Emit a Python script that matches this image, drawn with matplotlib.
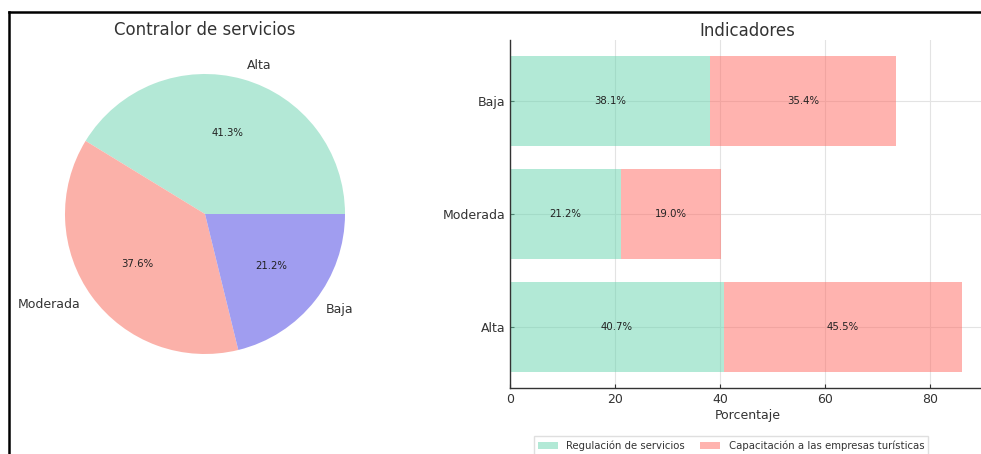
import matplotlib
matplotlib.use("Agg")
import matplotlib.pyplot as plt
from matplotlib.lines import Line2D
import numpy as np

# pie: controller of services
pie_labels = ["Alta", "Moderada", "Baja"]
pie_values = [41.3, 37.6, 21.2]

# stacked bars: indicators
levels = ["Alta", "Moderada", "Baja"]
regulacion = [40.7, 21.2, 38.1]
capacitacion = [45.5, 19.0, 35.4]
series_names = ["Regulación de servicios", "Capacitación a las empresas turísticas"]

green = "#66d4ae"
pink = "#ff6961"
pie_colors = ["#b3e8d6", "#fbb1a9", "#a09df0"]

W, H = 981, 454
fig = plt.figure(figsize=(W / 100, H / 100), dpi=100)
fig.patch.set_facecolor("white")

text_color = "#333333"

# ---- pie ----
ax1 = fig.add_axes([30 / W, (H - 389) / H, 350 / W, 350 / H])
wedges, texts, autotexts = ax1.pie(
    pie_values, labels=pie_labels, colors=pie_colors, startangle=0,
    autopct="%1.1f%%", labeldistance=1.1, pctdistance=0.6,
    textprops={"color": text_color, "fontsize": 9},
)
for t in autotexts:
    t.set_fontsize(7.3)
    t.set_color("#222222")
ax1.set_xlim(-1.25, 1.25)
ax1.set_ylim(-1.25, 1.25)
ax1.set_aspect("equal")
ax1.set_title("Contralor de servicios", fontsize=12, color=text_color, pad=3)

# ---- stacked horizontal bars ----
ax2 = fig.add_axes([510 / W, (H - 388) / H, 475 / W, 348 / H])
y = np.arange(len(levels))
b1 = ax2.barh(y, regulacion, height=0.8, color=green, alpha=0.5,
              label=series_names[0], zorder=2)
b2 = ax2.barh(y, capacitacion, left=regulacion, height=0.8, color=pink,
              alpha=0.5, label=series_names[1], zorder=2)
for bars, vals, lefts in [(b1, regulacion, [0] * 3), (b2, capacitacion, regulacion)]:
    for yi, v, l in zip(y, vals, lefts):
        ax2.text(l + v / 2, yi, f"{v:.1f}%", ha="center", va="center",
                 fontsize=7.3, color="#222222", zorder=3)

ax2.set_yticks(y)
ax2.set_yticklabels(levels)
ax2.set_xticks([0, 20, 40, 60, 80])
ax2.set_xlim(0, 90.5)
ax2.set_ylim(-0.54, 2.54)
ax2.set_xlabel("Porcentaje", fontsize=9, color=text_color, labelpad=2)
ax2.set_title("Indicadores", fontsize=12, color=text_color, pad=3)
ax2.grid(True, color="#e3e3e3", linewidth=0.8, zorder=0)
ax2.set_axisbelow(True)
for s in ["top", "right"]:
    ax2.spines[s].set_visible(False)
for s in ["left", "bottom"]:
    ax2.spines[s].set_color("#333333")
    ax2.spines[s].set_linewidth(1.0)
ax2.tick_params(direction="in", length=3, labelsize=9, colors=text_color)

fig.legend(
    handles=[b1, b2], labels=series_names, loc="upper center",
    bbox_to_anchor=(731 / W, 1 - 431 / H), ncol=2, fontsize=7.3,
    frameon=True, fancybox=False, edgecolor="#d8d8d8", handlelength=2.0,
    columnspacing=1.5, borderpad=0.4,
)
leg = fig.legends[0]
for t in leg.get_texts():
    t.set_color(text_color)

# frame around the figure
fig.add_artist(Line2D([9 / W, 1], [1 - 12 / H, 1 - 12 / H], color="black",
                      linewidth=1.8, transform=fig.transFigure))
fig.add_artist(Line2D([9 / W, 9 / W], [0, 1 - 12 / H], color="black",
                      linewidth=1.8, transform=fig.transFigure))

fig.savefig("out.png", dpi=100)
